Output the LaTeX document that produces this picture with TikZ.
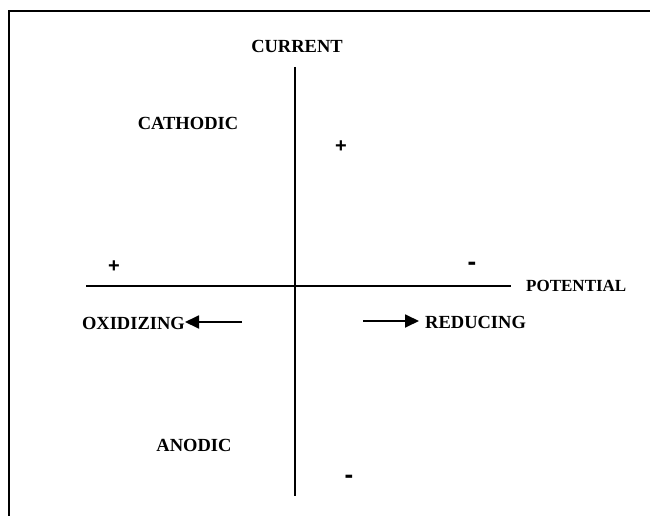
\documentclass[tikz,border=0pt]{standalone}
\usepackage{fontspec}
\setmainfont{Liberation Serif}
\newfontfamily\signfont{Liberation Sans}
\usetikzlibrary{arrows.meta}
\tikzset{
  lbl/.style={font=\fontsize{18.5}{20}\selectfont\bfseries, inner sep=0pt},
  plussign/.style={font=\signfont\fontsize{20}{22}\selectfont\bfseries, inner sep=0pt},
  minussign/.style={font=\signfont\fontsize{26}{28}\selectfont\bfseries, inner sep=0pt},
  axis/.style={line width=2pt},
  dirarrow/.style={line width=1.8pt, -{Triangle[length=14pt,width=13pt]}},
}
\begin{document}
\begin{tikzpicture}[x=1pt,y=-1pt]
\useasboundingbox (0,0) rectangle (650,516);
% frame
\coordinate (fbl) at (9,517);
\coordinate (ftl) at (9,11);
\coordinate (ftr) at (651,11);
\draw[line width=2pt] (fbl) -- (ftl) -- (ftr);
% axes
\coordinate (vtop) at (294.5,67);
\coordinate (vbot) at (294.5,496);
\coordinate (hleft) at (86,286);
\coordinate (hright) at (511,286);
\draw[axis] (vtop) -- (vbot);
\draw[axis] (hleft) -- (hright);
% labels
\node[lbl] (current) at (297,46) {CURRENT};
\node[lbl] (cathodic) at (188,123) {CATHODIC};
\node[lbl] (anodic) at (194,445) {ANODIC};
\node[lbl, anchor=west, font=\fontsize{17}{19}\selectfont\bfseries] (potential) at (526,286) {POTENTIAL};
\node[lbl, anchor=east] (oxid) at (185,323) {OXIDIZING};
\node[lbl, anchor=west] (reduc) at (425,322) {REDUCING};
% signs
\node[plussign] (p1) at (341,147) {+};
\node[plussign] (p2) at (114,267) {+};
\node[minussign] (m1) at (472,266) {-};
\node[minussign] (m2) at (349,479) {-};
% arrows
\coordinate (oxstart) at (242,322);
\coordinate (redstart) at (363,321);
\draw[dirarrow] (oxstart) -- (oxstart -| oxid.east);
\draw[dirarrow, shorten >=6pt] (redstart) -- (redstart -| reduc.west);
\end{tikzpicture}
\end{document}
